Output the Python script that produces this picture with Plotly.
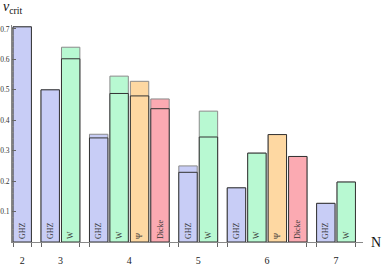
import plotly.graph_objects as go

# Data
N_values = [2, 3, 4, 5, 6, 7]
bar_N = [2, 3, 3, 4, 4, 4, 4, 5, 5, 6, 6, 6, 6, 7, 7]
bar_state = ["GHZ", "GHZ", "W", "GHZ", "W", "Ψ", "Dicke", "GHZ", "W",
             "GHZ", "W", "Ψ", "Dicke", "GHZ", "W"]
v_upper = [0.707, 0.5, 0.64, 0.354, 0.545, 0.528, 0.47, 0.25, 0.43,
           0.178, 0.292, 0.353, 0.281, 0.127, 0.197]
v_lower = [None, None, 0.602, 0.342, 0.488, 0.48, 0.438, 0.229, 0.345,
           None, None, None, None, None, None]

colors = {"GHZ": "#c8cdf6", "W": "#b8f9d2", "Ψ": "#fed8a2", "Dicke": "#fbaab2"}
SERIF = "Liberation Serif, Times New Roman, DejaVu Serif, serif"

# positions from group structure
pitch, group_step = 1.0, 1.37
pos = []
prev = None
for n in bar_N:
    if prev is None:
        pos.append(0.0)
    elif n == prev:
        pos.append(pos[-1] + pitch)
    else:
        pos.append(pos[-1] + group_step)
    prev = n

centers = []
edges = []
for n in N_values:
    ps = [p for p, m in zip(pos, bar_N) if m == n]
    centers.append(sum(ps) / len(ps))
    edges += [ps[0] - 0.45, ps[-1] + 0.45]

fill = [colors[s] for s in bar_state]
front = [lo if lo is not None else up for lo, up in zip(v_lower, v_upper)]

fig = go.Figure()
fig.add_trace(go.Bar(x=pos, y=v_upper, width=0.9,
                     marker=dict(color=fill, line=dict(color="#8a8a8a", width=1)),
                     hoverinfo="skip"))
fig.add_trace(go.Bar(x=pos, y=front, width=0.9, text=bar_state,
                     textposition="inside", insidetextanchor="start", textangle=-90,
                     insidetextfont=dict(family=SERIF, size=8, color="#333"),
                     marker=dict(color=fill, line=dict(color="#333333", width=1)),
                     hoverinfo="skip"))
# invisible trace for boundary tick axis
fig.add_trace(go.Scatter(x=[pos[0]], y=[0], xaxis="x2", mode="markers",
                         marker=dict(opacity=0), hoverinfo="skip"))

xr = [-0.5, 16.67]
fig.update_layout(
    width=382, height=268,
    margin=dict(l=12, r=19, t=25, b=26, autoexpand=False),
    plot_bgcolor="white", paper_bgcolor="white",
    barmode="overlay", showlegend=False,
    xaxis=dict(range=xr, tickvals=centers, ticktext=[str(n) for n in N_values],
               ticks="", showgrid=False, zeroline=False, showline=True, automargin=False,
               linecolor="#888", linewidth=1, ticklabelstandoff=9,
               tickfont=dict(family=SERIF, size=10, color="#222")),
    xaxis2=dict(range=xr, overlaying="x", side="bottom", tickvals=edges, automargin=False,
                ticks="outside", ticklen=4, tickcolor="#666", showticklabels=False,
                showgrid=False, zeroline=False, showline=False),
    yaxis=dict(range=[0, 0.713], tickvals=[0.1, 0.2, 0.3, 0.4, 0.5, 0.6, 0.7],
               ticktext=["0.1", "0.2", "0.3", "0.4", "0.5", "0.6", "0.7"],
               ticks="inside", ticklen=4, tickcolor="#666", automargin=False,
               minor=dict(dtick=0.02, ticks="inside", ticklen=2, tickcolor="#888"),
               showgrid=False, zeroline=False, showline=True,
               linecolor="#888", linewidth=1, ticklabelstandoff=0,
               tickfont=dict(family=SERIF, size=7.5, color="#333")),
    annotations=[
        dict(text="<i>v</i><sub>crit</sub>", xref="paper", yref="paper",
             x=-0.03, y=1.03, xanchor="left", yanchor="bottom", showarrow=False,
             font=dict(family=SERIF, size=14, color="#111")),
        dict(text="N", xref="paper", yref="paper", x=1.018, y=0,
             xanchor="left", yanchor="middle", showarrow=False,
             font=dict(family=SERIF, size=14, color="#111")),
    ],
)

fig.write_html("out.html", config={"displayModeBar": False},
               post_script="document.body.style.margin='0';document.body.style.overflow='hidden';")
